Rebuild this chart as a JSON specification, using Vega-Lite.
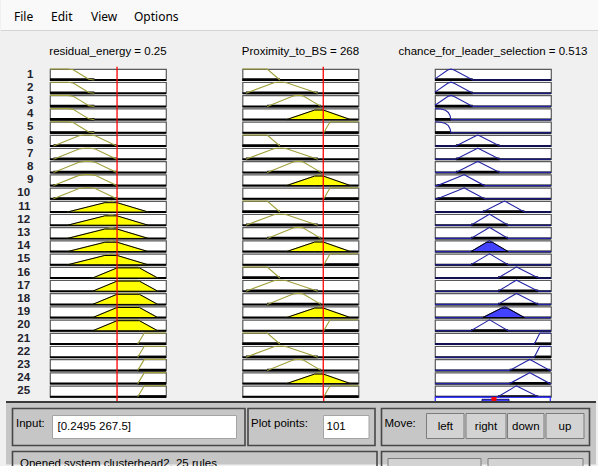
{
  "$schema": "https://vega.github.io/schema/vega-lite/v6.json",
  "background": "#f0f0f0",
  "padding": 0,
  "spacing": -10,
  "datasets": {
    "vars": [
      {"v": "a", "lo": 0, "hi": 0.4325, "cur": 0.25},
      {"v": "b", "lo": 0, "hi": 385, "cur": 268},
      {"v": "c", "lo": 0, "hi": 1, "cur": 0.513}
    ],
    "shapes": [
      {"k": "a1", "xs": [0, 0.0657, 0.0865, 0.1155, 0.1445, 0.1652], "ys": [1, 1, 0.93, 0.5, 0.07, 0], "s0": 0, "s1": 0.1652},
      {"k": "a2", "xs": [0.013, 0.1081, 0.1298, 0.1492, 0.1687, 0.2487], "ys": [0, 0.93, 1, 1, 0.93, 0], "s0": 0.013, "s1": 0.2487},
      {"k": "a3", "xs": [0.0657, 0.2292, 0.3655], "ys": [0, 1, 0], "s0": 0.0657, "s1": 0.3655},
      {"k": "a4", "xs": [0.1592, 0.2582, 0.327, 0.4014], "ys": [0, 1, 1, 0], "s0": 0.1592, "s1": 0.4014},
      {"k": "a5", "xs": [0.327, 0.3395, 0.3516, 0.4325], "ys": [0, 0.5, 1, 1], "s0": 0.327, "s1": 0.4325},
      {"k": "b1", "xs": [0, 82, 124], "ys": [1, 1, 0], "s0": 0, "s1": 124},
      {"k": "b2", "xs": [11.6, 104, 115.5, 134.8, 146.3, 250], "ys": [0, 0.95, 1, 1, 0.95, 0], "s0": 11.6, "s1": 250},
      {"k": "b3", "xs": [82, 168, 180, 192, 202, 260], "ys": [0, 0.95, 1, 1, 0.95, 0], "s0": 82, "s1": 260},
      {"k": "b4", "xs": [146.3, 254.1, 358], "ys": [0, 1, 0], "s0": 146.3, "s1": 358},
      {"k": "b5", "xs": [270, 280, 291, 385], "ys": [0, 0.5, 1, 1], "s0": 270, "s1": 385},
      {"k": "cb", "xs": [0, 0.11, 0.137, 0.165, 0.325, 1], "ys": [0.1, 0.9, 1, 0.9, 0, 0], "s0": 0, "s1": 0.325},
      {"k": "cvl", "xs": [0, 0.05, 0.09, 0.115, 0.13, 0.137, 1], "ys": [1, 0.96, 0.85, 0.65, 0.35, 0, 0], "s0": 0, "s1": 0.137},
      {"k": "cd", "xs": [0, 0.18, 0.35, 0.369, 0.388, 0.557, 1], "ys": [0, 0, 0.9, 1, 0.9, 0, 0], "s0": 0.18, "s1": 0.557},
      {"k": "cc", "xs": [0, 0.021, 0.229, 0.252, 0.269, 0.426, 1], "ys": [0, 0, 0.9, 1, 0.9, 0, 0], "s0": 0.021, "s1": 0.426},
      {"k": "ce", "xs": [0, 0.31, 0.454, 0.47, 0.486, 0.63, 1], "ys": [0, 0, 0.9, 1, 0.9, 0, 0], "s0": 0.31, "s1": 0.63},
      {"k": "cf", "xs": [0, 0.412, 0.581, 0.6, 0.617, 0.77, 1], "ys": [0, 0, 0.9, 1, 0.9, 0, 0], "s0": 0.412, "s1": 0.77},
      {"k": "cg", "xs": [0, 0.543, 0.686, 0.702, 0.721, 0.89, 1], "ys": [0, 0, 0.9, 1, 0.9, 0, 0], "s0": 0.543, "s1": 0.89},
      {"k": "ch", "xs": [0, 0.856, 0.88, 0.904, 1], "ys": [0, 0, 0.5, 1, 1], "s0": 0.856, "s1": 1},
      {"k": "ci", "xs": [0, 0.643, 0.8, 0.817, 0.834, 0.991, 1], "ys": [0, 0, 0.9, 1, 0.9, 0, 0], "s0": 0.643, "s1": 0.991}
    ],
    "fills": [
      {"k": "a3f", "fx": [0.0657, 0.2044, 0.25, 0.3655], "fy": [0, 0.848, 0.848, 0]},
      {"k": "a4f", "fx": [0.1592, 0.25, 0.3332, 0.4014], "fy": [0, 0.917, 0.917, 0]},
      {"k": "b4f", "fx": [146.3, 239.7, 268, 358], "fy": [0, 0.866, 0.866, 0]},
      {"k": "c14", "fx": [0.31, 0.4457, 0.4943, 0.63], "fy": [0, 0.848, 0.848, 0]},
      {"k": "c19", "fx": [0.412, 0.5746, 0.6228, 0.77], "fy": [0, 0.866, 0.866, 0]}
    ],
    "cells": [
      {"r": 1, "v": "a", "m": "a1"}, {"r": 1, "v": "b", "m": "b1"}, {"r": 1, "v": "c", "m": "cb"},
      {"r": 2, "v": "a", "m": "a1"}, {"r": 2, "v": "b", "m": "b2"}, {"r": 2, "v": "c", "m": "cb"},
      {"r": 3, "v": "a", "m": "a1"}, {"r": 3, "v": "b", "m": "b3"}, {"r": 3, "v": "c", "m": "cb"},
      {"r": 4, "v": "a", "m": "a1"}, {"r": 4, "v": "b", "m": "b4", "f": "b4f"}, {"r": 4, "v": "c", "m": "cvl"},
      {"r": 5, "v": "a", "m": "a1"}, {"r": 5, "v": "b", "m": "b5"}, {"r": 5, "v": "c", "m": "cvl"},
      {"r": 6, "v": "a", "m": "a2"}, {"r": 6, "v": "b", "m": "b1"}, {"r": 6, "v": "c", "m": "cd"},
      {"r": 7, "v": "a", "m": "a2"}, {"r": 7, "v": "b", "m": "b2"}, {"r": 7, "v": "c", "m": "cd"},
      {"r": 8, "v": "a", "m": "a2"}, {"r": 8, "v": "b", "m": "b3"}, {"r": 8, "v": "c", "m": "cd"},
      {"r": 9, "v": "a", "m": "a2"}, {"r": 9, "v": "b", "m": "b4", "f": "b4f"}, {"r": 9, "v": "c", "m": "cc"},
      {"r": 10, "v": "a", "m": "a2"}, {"r": 10, "v": "b", "m": "b5"}, {"r": 10, "v": "c", "m": "cc"},
      {"r": 11, "v": "a", "m": "a3", "f": "a3f"}, {"r": 11, "v": "b", "m": "b1"}, {"r": 11, "v": "c", "m": "cf"},
      {"r": 12, "v": "a", "m": "a3", "f": "a3f"}, {"r": 12, "v": "b", "m": "b2"}, {"r": 12, "v": "c", "m": "ce"},
      {"r": 13, "v": "a", "m": "a3", "f": "a3f"}, {"r": 13, "v": "b", "m": "b3"}, {"r": 13, "v": "c", "m": "ce"},
      {"r": 14, "v": "a", "m": "a3", "f": "a3f"}, {"r": 14, "v": "b", "m": "b4", "f": "b4f"}, {"r": 14, "v": "c", "m": "ce", "f": "c14"},
      {"r": 15, "v": "a", "m": "a3", "f": "a3f"}, {"r": 15, "v": "b", "m": "b5"}, {"r": 15, "v": "c", "m": "ce"},
      {"r": 16, "v": "a", "m": "a4", "f": "a4f"}, {"r": 16, "v": "b", "m": "b1"}, {"r": 16, "v": "c", "m": "cg"},
      {"r": 17, "v": "a", "m": "a4", "f": "a4f"}, {"r": 17, "v": "b", "m": "b2"}, {"r": 17, "v": "c", "m": "cg"},
      {"r": 18, "v": "a", "m": "a4", "f": "a4f"}, {"r": 18, "v": "b", "m": "b3"}, {"r": 18, "v": "c", "m": "cg"},
      {"r": 19, "v": "a", "m": "a4", "f": "a4f"}, {"r": 19, "v": "b", "m": "b4", "f": "b4f"}, {"r": 19, "v": "c", "m": "cf", "f": "c19"},
      {"r": 20, "v": "a", "m": "a4", "f": "a4f"}, {"r": 20, "v": "b", "m": "b5"}, {"r": 20, "v": "c", "m": "ce"},
      {"r": 21, "v": "a", "m": "a5"}, {"r": 21, "v": "b", "m": "b1"}, {"r": 21, "v": "c", "m": "ch"},
      {"r": 22, "v": "a", "m": "a5"}, {"r": 22, "v": "b", "m": "b2"}, {"r": 22, "v": "c", "m": "ch"},
      {"r": 23, "v": "a", "m": "a5"}, {"r": 23, "v": "b", "m": "b3"}, {"r": 23, "v": "c", "m": "ci"},
      {"r": 24, "v": "a", "m": "a5"}, {"r": 24, "v": "b", "m": "b4", "f": "b4f"}, {"r": 24, "v": "c", "m": "ci"},
      {"r": 25, "v": "a", "m": "a5"}, {"r": 25, "v": "b", "m": "b5"}, {"r": 25, "v": "c", "m": "cg"}
    ]
  },
  "vconcat": [
    {
      "width": 549,
      "height": 55,
      "view": {"fill": null, "stroke": null},
      "layer": [
        {
          "data": {"values": [{"x": 0, "x2": 598, "y": 0, "y2": 30}]},
          "mark": {"type": "rect", "color": "#f9f9f9"},
          "encoding": {
            "x": {"field": "x", "type": "quantitative", "scale": {"domain": [0, 598], "range": [-49, 549], "nice": false, "zero": false}, "axis": null},
            "x2": {"field": "x2"},
            "y": {"field": "y", "type": "quantitative", "scale": {"domain": [0, 55], "reverse": true, "nice": false, "zero": false}, "axis": null},
            "y2": {"field": "y2"}
          }
        },
        {
          "data": {"values": [{"x": 0, "x2": 598, "y": 30.5}]},
          "mark": {"type": "rule", "color": "#d4d4d4", "strokeWidth": 1},
          "encoding": {
            "x": {"field": "x", "type": "quantitative", "axis": null},
            "x2": {"field": "x2"},
            "y": {"field": "y", "type": "quantitative", "axis": null}
          }
        },
        {
          "data": {"values": [{"item": "File", "x": 13}, {"item": "Edit", "x": 50}, {"item": "View", "x": 90}, {"item": "Options", "x": 133}]},
          "mark": {"type": "text", "align": "left", "baseline": "middle", "font": "Noto Sans", "fontSize": 12, "color": "#000000"},
          "encoding": {
            "x": {"field": "x", "type": "quantitative", "axis": null},
            "y": {"datum": 17, "type": "quantitative", "axis": null},
            "text": {"field": "item"}
          }
        }
      ]
    },
    {
      "data": {"name": "cells"},
      "transform": [
        {"lookup": "v", "from": {"data": {"name": "vars"}, "key": "v", "fields": ["lo", "hi", "cur"]}},
        {"lookup": "m", "from": {"data": {"name": "shapes"}, "key": "k", "fields": ["xs", "ys", "s0", "s1"]}},
        {"lookup": "f", "from": {"data": {"name": "fills"}, "key": "k", "fields": ["fx", "fy"]}}
      ],
      "facet": {
        "row": {
          "field": "r", "type": "ordinal", "title": null,
          "header": {"labelAngle": 0, "labelAlign": "center", "labelPadding": 13.5, "labelFont": "Liberation Sans", "labelFontSize": 11.5, "labelFontWeight": "bold", "labelColor": "#22222c"}
        },
        "column": {
          "field": "v", "type": "nominal", "title": null,
          "header": {
            "labelExpr": "datum.value == 'a' ? 'residual_energy = 0.25' : datum.value == 'b' ? 'Proximity_to_BS = 268' : 'chance_for_leader_selection = 0.513'",
            "labelFont": "Liberation Sans", "labelFontSize": 11.5, "labelColor": "#000000", "labelPadding": 12
          }
        }
      },
      "spacing": {"row": 2.2, "column": 76.5},
      "bounds": "flush",
      "resolve": {"scale": {"x": "independent"}},
      "spec": {
        "width": 116,
        "height": 11,
        "layer": [
          {
            "mark": {"type": "rule", "color": "#000000", "strokeWidth": 2},
            "encoding": {
              "x": {"field": "lo", "type": "quantitative", "scale": {"nice": false, "zero": false}, "axis": null},
              "x2": {"field": "hi"},
              "y": {"datum": 0, "type": "quantitative", "scale": {"domain": [0, 1], "nice": false}, "axis": null}
            }
          },
          {
            "transform": [{"filter": "!datum.f"}],
            "mark": {"type": "rule", "color": "#000000", "strokeWidth": 2.6},
            "encoding": {
              "x": {"field": "s0", "type": "quantitative", "scale": {"nice": false, "zero": false}, "axis": null},
              "x2": {"field": "s1"},
              "y": {"datum": 0.03, "type": "quantitative", "axis": null}
            }
          },
          {
            "transform": [{"flatten": ["xs", "ys"], "as": ["px", "py"]}],
            "mark": {"type": "line", "strokeWidth": 1.1},
            "encoding": {
              "x": {"field": "px", "type": "quantitative", "scale": {"nice": false, "zero": false}, "axis": null},
              "y": {"field": "py", "type": "quantitative", "axis": null},
              "stroke": {"field": "v", "type": "nominal", "scale": {"domain": ["a", "b", "c"], "range": ["#a0a03a", "#a0a03a", "#2323a6"]}, "legend": null}
            }
          },
          {
            "transform": [{"filter": "datum.f"}, {"flatten": ["fx", "fy"], "as": ["px", "py"]}],
            "mark": {"type": "area", "stroke": "#000000", "strokeWidth": 1},
            "encoding": {
              "x": {"field": "px", "type": "quantitative", "scale": {"nice": false, "zero": false}, "axis": null},
              "y": {"field": "py", "type": "quantitative", "axis": null},
              "y2": {"datum": 0},
              "fill": {"field": "v", "type": "nominal", "scale": {"domain": ["a", "b", "c"], "range": ["#ffff00", "#ffff00", "#4242ff"]}, "legend": null}
            }
          },
          {
            "transform": [{"filter": "datum.v != 'c'"}],
            "mark": {"type": "rule", "color": "#ff0000", "strokeWidth": 1.3},
            "encoding": {
              "x": {"field": "cur", "type": "quantitative", "scale": {"nice": false, "zero": false}, "axis": null},
              "y": {"datum": 1.2, "type": "quantitative", "axis": null},
              "y2": {"datum": 0}
            }
          }
        ]
      }
    },
    {
      "width": 549,
      "height": 64.5,
      "view": {"fill": null, "stroke": null},
      "layer": [
        {
          "data": {"values": [{"x": 116, "y": 397.5, "y2": 403}, {"x": 322.7, "y": 397.5, "y2": 403}]},
          "mark": {"type": "rule", "color": "#ff0000", "strokeWidth": 1.3},
          "encoding": {
            "x": {"field": "x", "type": "quantitative", "scale": {"domain": [0, 598], "range": [-49, 549], "nice": false, "zero": false}, "axis": null},
            "y": {"field": "y", "type": "quantitative", "scale": {"domain": [401.5, 466], "reverse": true, "nice": false, "zero": false}, "axis": null},
            "y2": {"field": "y2"}
          }
        },
        {
          "data": {"values": [{"x": 434.3, "x2": 549.3, "y": 398.8, "y2": 410}]},
          "mark": {"type": "rect", "fill": "#ffffff", "stroke": "#3b3bff", "strokeWidth": 1.3},
          "encoding": {"x": {"field": "x", "type": "quantitative", "axis": null}, "x2": {"field": "x2"}, "y": {"field": "y", "type": "quantitative", "axis": null}, "y2": {"field": "y2"}}
        },
        {
          "data": {"values": [{"x": 481, "x2": 508, "y": 400.8, "y2": 410}]},
          "mark": {"type": "rect", "fill": "#4040ff", "stroke": "#151570", "strokeWidth": 1},
          "encoding": {"x": {"field": "x", "type": "quantitative", "axis": null}, "x2": {"field": "x2"}, "y": {"field": "y", "type": "quantitative", "axis": null}, "y2": {"field": "y2"}}
        },
        {
          "data": {"values": [{"x": 490.5, "x2": 495.5, "y": 398.5, "y2": 403}]},
          "mark": {"type": "rect", "fill": "#ff0000"},
          "encoding": {"x": {"field": "x", "type": "quantitative", "axis": null}, "x2": {"field": "x2"}, "y": {"field": "y", "type": "quantitative", "axis": null}, "y2": {"field": "y2"}}
        },
        {
          "data": {"values": [{"x": 5, "x2": 595, "y": 403, "y2": 466}]},
          "mark": {"type": "rect", "fill": "#c6c6c6"},
          "encoding": {"x": {"field": "x", "type": "quantitative", "axis": null}, "x2": {"field": "x2"}, "y": {"field": "y", "type": "quantitative", "axis": null}, "y2": {"field": "y2"}}
        },
        {
          "data": {"values": [{"x": 5, "x2": 595, "y": 403.5}]},
          "mark": {"type": "rule", "color": "#3a3a3a", "strokeWidth": 2},
          "encoding": {"x": {"field": "x", "type": "quantitative", "axis": null}, "x2": {"field": "x2"}, "y": {"field": "y", "type": "quantitative", "axis": null}}
        },
        {
          "data": {"values": [
            {"x": 11.5, "x2": 244, "y": 410, "y2": 447},
            {"x": 247, "x2": 374, "y": 410, "y2": 447},
            {"x": 380.5, "x2": 588.5, "y": 410, "y2": 447},
            {"x": 11.5, "x2": 376, "y": 453, "y2": 470},
            {"x": 380.5, "x2": 588.5, "y": 453, "y2": 470}
          ]},
          "mark": {"type": "rect", "filled": false, "stroke": "#474747", "strokeWidth": 1.6},
          "encoding": {"x": {"field": "x", "type": "quantitative", "axis": null}, "x2": {"field": "x2"}, "y": {"field": "y", "type": "quantitative", "axis": null}, "y2": {"field": "y2"}}
        },
        {
          "data": {"values": [
            {"x": 51.5, "x2": 235.5, "y": 417, "y2": 440},
            {"x": 322.5, "x2": 368, "y": 417, "y2": 440}
          ]},
          "mark": {"type": "rect", "fill": "#ffffff", "stroke": "#a4a4a4", "strokeWidth": 1},
          "encoding": {"x": {"field": "x", "type": "quantitative", "axis": null}, "x2": {"field": "x2"}, "y": {"field": "y", "type": "quantitative", "axis": null}, "y2": {"field": "y2"}}
        },
        {
          "data": {"values": [
            {"x": 425.5, "x2": 463, "y": 415, "y2": 440},
            {"x": 465, "x2": 505, "y": 415, "y2": 440},
            {"x": 506.5, "x2": 543, "y": 415, "y2": 440},
            {"x": 545, "x2": 583, "y": 415, "y2": 440},
            {"x": 387, "x2": 480, "y": 460, "y2": 475},
            {"x": 487, "x2": 582, "y": 460, "y2": 475}
          ]},
          "mark": {"type": "rect", "fill": "#d3d3d3", "stroke": "#7c7c7c", "strokeWidth": 1},
          "encoding": {"x": {"field": "x", "type": "quantitative", "axis": null}, "x2": {"field": "x2"}, "y": {"field": "y", "type": "quantitative", "axis": null}, "y2": {"field": "y2"}}
        },
        {
          "data": {"values": [
            {"t": "Input:", "x": 15, "y": 425},
            {"t": "Plot points:", "x": 250, "y": 425},
            {"t": "Move:", "x": 383.5, "y": 425},
            {"t": "[0.2495 267.5]", "x": 56.5, "y": 428.5},
            {"t": "101", "x": 325.5, "y": 428.5},
            {"t": "Opened system clusterhead2, 25 rules", "x": 19, "y": 465.5}
          ]},
          "mark": {"type": "text", "align": "left", "baseline": "middle", "font": "Liberation Sans", "fontSize": 11.5, "color": "#000000"},
          "encoding": {"x": {"field": "x", "type": "quantitative", "axis": null}, "y": {"field": "y", "type": "quantitative", "axis": null}, "text": {"field": "t"}}
        },
        {
          "data": {"values": [
            {"t": "left", "x": 444.3, "y": 428},
            {"t": "right", "x": 485, "y": 428},
            {"t": "down", "x": 524.8, "y": 428},
            {"t": "up", "x": 564, "y": 428}
          ]},
          "mark": {"type": "text", "align": "center", "baseline": "middle", "font": "Liberation Sans", "fontSize": 11.5, "color": "#000000"},
          "encoding": {"x": {"field": "x", "type": "quantitative", "axis": null}, "y": {"field": "y", "type": "quantitative", "axis": null}, "text": {"field": "t"}}
        }
      ]
    }
  ],
  "config": {
    "view": {"fill": "#ffffff", "stroke": "#5a5a5a", "strokeWidth": 1.2}
  }
}
